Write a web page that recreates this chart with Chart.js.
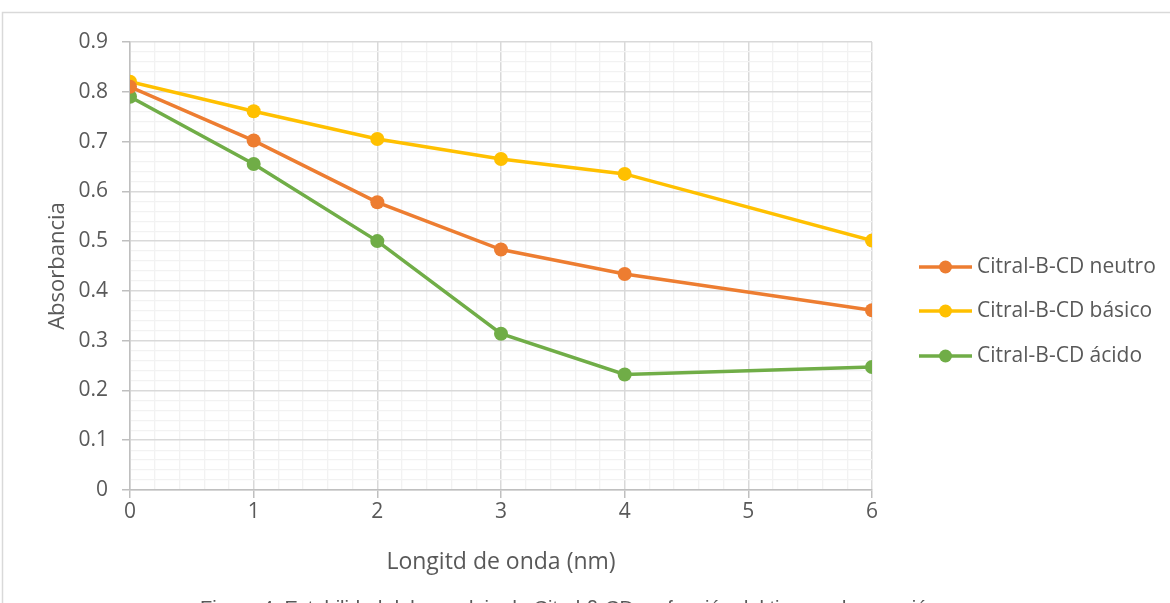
<!DOCTYPE html>
<html>
<head>
<meta charset="utf-8">
<script src="https://cdn.jsdelivr.net/npm/chart.js@4/dist/chart.umd.min.js"></script>
<style>
  html, body { margin: 0; padding: 0; background: #ffffff; overflow: hidden; }
  #wrap { position: relative; width: 1170px; height: 603px; }
  canvas { display: block; }
</style>
</head>
<body>
<div id="wrap"><canvas id="c" width="1170" height="603"></canvas></div>
<script>
// Wavelength positions (x) and absorbance readings per sample
const xValues = [0, 1, 2, 3, 4, 6];
const xTickLabels = ['0', '1', '2', '3', '4', '5', '6'];
const yTickLabels = ['0', '0.1', '0.2', '0.3', '0.4', '0.5', '0.6', '0.7', '0.8', '0.9'];

const seriesNames = ['Citral-B-CD neutro', 'Citral-B-CD básico', 'Citral-B-CD ácido'];
const neutro = [0.81, 0.702, 0.578, 0.483, 0.434, 0.361];
const basico = [0.82, 0.761, 0.705, 0.665, 0.635, 0.501];
const acido  = [0.79, 0.655, 0.500, 0.314, 0.232, 0.247];
const seriesColors = ['#ED7D31', '#FFC000', '#70AD47'];

const xTitle = 'Longitd de onda (nm)';
const yTitle = 'Absorbancia';
const caption = 'Figura 4. Estabilidad del complejo de Citral-β-CD en función del tiempo de reacción';

const FONT = '"Open Sans", Lato, sans-serif';
const TEXT = '#595959';

const toPoints = vals => vals.map((v, i) => ({ x: xValues[i], y: v }));

const isMajor = (v, step) => Math.abs(v / step - Math.round(v / step)) < 1e-6;

// Outer frame and figure caption
const framePlugin = {
  id: 'frame',
  beforeDraw(chart) {
    const ctx = chart.ctx;
    ctx.save();
    ctx.strokeStyle = '#D9D9D9';
    ctx.lineWidth = 1.5;
    ctx.beginPath();
    ctx.moveTo(2.5, 700);
    ctx.lineTo(2.5, 12.5);
    ctx.lineTo(1175, 12.5);
    ctx.stroke();
    ctx.restore();
  },
  afterDraw(chart) {
    const ctx = chart.ctx;
    ctx.save();
    ctx.fillStyle = '#595959';
    ctx.font = '20px "Liberation Sans", Arial, sans-serif';
    ctx.textBaseline = 'alphabetic';
    ctx.textAlign = 'left';
    ctx.fillText(caption, 200, 615);
    ctx.restore();
  }
};

// Legend at the right side of the plot
const sideLegend = {
  id: 'sideLegend',
  afterDraw(chart) {
    const ctx = chart.ctx;
    const rows = [267, 311, 356];
    ctx.save();
    chart.data.datasets.forEach((ds, i) => {
      const y = rows[i];
      ctx.strokeStyle = ds.borderColor;
      ctx.lineWidth = 3.5;
      ctx.beginPath();
      ctx.moveTo(919, y);
      ctx.lineTo(972, y);
      ctx.stroke();
      ctx.fillStyle = ds.borderColor;
      ctx.beginPath();
      ctx.arc(945.5, y, 6.5, 0, Math.PI * 2);
      ctx.fill();
      ctx.fillStyle = TEXT;
      ctx.font = '21px ' + FONT;
      ctx.textBaseline = 'middle';
      ctx.textAlign = 'left';
      ctx.fillText(ds.label, 977, y);
    });
    ctx.restore();
  }
};

const datasets = [neutro, basico, acido].map((vals, i) => ({
  label: seriesNames[i],
  data: toPoints(vals),
  borderColor: seriesColors[i],
  backgroundColor: seriesColors[i],
  borderWidth: 3.5,
  pointRadius: 7,
  pointHoverRadius: 7,
  pointBorderWidth: 0,
  tension: 0
}));

new Chart(document.getElementById('c'), {
  type: 'line',
  data: { datasets },
  plugins: [framePlugin, sideLegend],
  options: {
    responsive: false,
    animation: false,
    layout: { padding: { left: 0, top: 42, right: 298, bottom: 0 } },
    plugins: { legend: { display: false }, tooltip: { enabled: false } },
    scales: {
      x: {
        type: 'linear',
        min: 0, max: 6,
        afterFit(scale) { scale.height = 113; },
        ticks: {
          stepSize: 0.2,
          autoSkip: false,
          maxRotation: 0,
          padding: 1,
          color: TEXT,
          font: { family: FONT, size: 21 },
          callback(v) { return isMajor(v, 1) ? xTickLabels[Math.round(v)] : ''; }
        },
        grid: {
          color: ctx => (ctx.tick && isMajor(ctx.tick.value, 1)) ? '#D9D9D9' : '#F2F2F2',
          lineWidth: ctx => (ctx.tick && isMajor(ctx.tick.value, 1)) ? 1.5 : 1.3,
          tickColor: ctx => (ctx.tick && isMajor(ctx.tick.value, 1)) ? '#BFBFBF' : 'rgba(0,0,0,0)',
          tickLength: 8,
          drawTicks: true
        },
        border: { color: '#BFBFBF', width: 1.5 },
        title: {
          display: true, text: xTitle, color: TEXT,
          font: { family: FONT, size: 23 },
          padding: { top: 0, bottom: 27 }
        }
      },
      y: {
        type: 'linear',
        min: 0, max: 0.9,
        afterFit(scale) { scale.width = 130; },
        ticks: {
          stepSize: 0.02,
          autoSkip: false,
          padding: 14,
          color: TEXT,
          font: { family: FONT, size: 21 },
          callback(v) { return isMajor(v, 0.1) ? yTickLabels[Math.round(v * 10)] : ''; }
        },
        grid: {
          color: ctx => (ctx.tick && isMajor(ctx.tick.value, 0.1)) ? '#D9D9D9' : '#F2F2F2',
          lineWidth: ctx => (ctx.tick && isMajor(ctx.tick.value, 0.1)) ? 1.5 : 1.3,
          tickColor: ctx => (ctx.tick && isMajor(ctx.tick.value, 0.1)) ? '#BFBFBF' : 'rgba(0,0,0,0)',
          tickLength: 8
        },
        border: { color: '#BFBFBF', width: 1.5 },
        title: {
          display: true, text: yTitle, color: TEXT,
          font: { family: FONT, size: 22 },
          padding: { top: 45, bottom: 0 }
        }
      }
    }
  }
});
</script>
</body>
</html>
